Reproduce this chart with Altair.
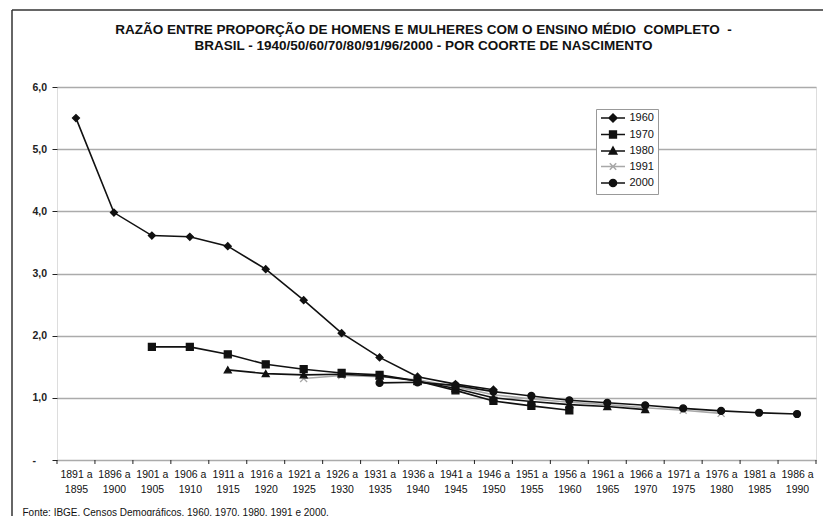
import altair as alt
import pandas as pd

# ---- data ----
cohorts = ["1891 a 1895", "1896 a 1900", "1901 a 1905", "1906 a 1910", "1911 a 1915",
           "1916 a 1920", "1921 a 1925", "1926 a 1930", "1931 a 1935", "1936 a 1940",
           "1941 a 1945", "1946 a 1950", "1951 a 1955", "1956 a 1960", "1961 a 1965",
           "1966 a 1970", "1971 a 1975", "1976 a 1980", "1981 a 1985", "1986 a 1990"]

series_names = ["1960", "1970", "1980", "1991", "2000"]

s1960 = [5.50, 3.98, 3.61, 3.59, 3.44, 3.07, 2.57, 2.04, 1.65, 1.34, 1.22, 1.13,
         None, None, None, None, None, None, None, None]
s1970 = [None, None, 1.82, 1.82, 1.70, 1.54, 1.46, 1.40, 1.37, 1.27, 1.12, 0.95,
         0.87, 0.80, None, None, None, None, None, None]
s1980 = [None, None, None, None, 1.45, 1.39, 1.37, 1.38, 1.35, 1.27, 1.15, 1.00,
         0.94, 0.89, 0.86, 0.81, None, None, None, None]
s1991 = [None, None, None, None, None, None, 1.31, 1.36, 1.34, 1.29, 1.18, 1.05,
         0.98, 0.93, 0.89, 0.84, 0.80, 0.75, None, None]
s2000 = [None, None, None, None, None, None, None, None, 1.24, 1.25, 1.20, 1.10,
         1.03, 0.96, 0.92, 0.88, 0.83, 0.79, 0.76, 0.74]

y_ticks = [0, 1, 2, 3, 4, 5, 6]
NB = "\u00a0"
title_lines = ["RAZÃO ENTRE PROPORÇÃO DE HOMENS E MULHERES COM O ENSINO MÉDIO" + NB + " COMPLETO" + NB + " -",
               "BRASIL - 1940/50/60/70/80/91/96/2000 - POR COORTE DE NASCIMENTO"]
source = "Fonte: IBGE. Censos Demográficos. 1960. 1970. 1980. 1991 e 2000."

# ---- table built from the arrays ----
rows = []
for name, vals in zip(series_names, [s1960, s1970, s1980, s1991, s2000]):
    for i, v in enumerate(vals):
        if v is not None:
            rows.append({"idx": i, "cohort": cohorts[i], "series": name, "value": v})
df = pd.DataFrame(rows)
bounds = pd.DataFrame({"b": [i - 0.5 for i in range(len(cohorts) + 1)]})
one = pd.DataFrame({"a": [0]})

FONT = "Liberation Sans"
W, H = 759, 373

colors = ["#111111", "#111111", "#111111", "#a8a8a8", "#111111"]
plot_shapes = ["diamond", "square", "triangle-up", "M-1,-1L1,1M-1,1L1,-1", "circle"]
# legend symbols: a short line with the marker in its middle (unit = 4 px)
legend_shapes = [
    "M-1,0H5M2,-1L3,0L2,1L1,0Z",
    "M-1,0H5M1.15,-0.85H2.85V0.85H1.15Z",
    "M-1,0H5M2,-1L2.95,0.75H1.05Z",
    "M-1,0H5M1.2,-0.8L2.8,0.8M1.2,0.8L2.8,-0.8",
    "M-1,0H5M2.9,0A0.9,0.9,0,1,1,1.1,0A0.9,0.9,0,1,1,2.9,0Z",
]

label_arr = "[" + ",".join("['%s','%s']" % (c[:6], c[7:]) for c in cohorts) + "]"

x_scale = alt.Scale(domain=[-0.5, len(cohorts) - 0.5], nice=False, zero=False)
y_scale = alt.Scale(domain=[0, 6], nice=False)

x_axis = alt.Axis(
    values=list(range(len(cohorts))), labelExpr=label_arr + "[datum.value]",
    ticks=False, grid=False, domain=False, labelPadding=9,
    labelFontSize=10.5, labelLineHeight=15, labelColor="#111", labelFont=FONT,
    labelFlush=False, labelOverlap=False,
    title=source, titleFont=FONT, titleFontSize=10, titleFontWeight="normal",
    titleColor="#111", titleAnchor="start", titleAlign="left",
    titleBaseline="alphabetic", titleX=-35, titleY=55,
)
y_axis = alt.Axis(
    values=y_ticks, grid=True, gridColor="#ababab", gridWidth=1.5,
    domain=False, ticks=True, tickSize=5, tickColor="#222",
    labelExpr="datum.value == 0 ? '-' : replace(format(datum.value, '.1f'), '.', ',')",
    labelAlign="left", labelPadding=20, labelFontSize=10.5, labelFontWeight="bold",
    labelColor="#222", labelFont=FONT, title=None,
)


def xe(field="idx:Q"):
    return alt.X(field, scale=x_scale, axis=x_axis)


def ye():
    return alt.Y("value:Q", scale=y_scale, axis=y_axis)


layers = []

# outer frame of the figure (decoration)
layers.append(alt.Chart(one).mark_rule(color="#333", strokeWidth=1.5).encode(
    x=alt.value(-45), y=alt.value(-77), y2=alt.value(H + 80)))
layers.append(alt.Chart(one).mark_rule(color="#333", strokeWidth=1.5).encode(
    x=alt.value(-45), x2=alt.value(W + 60), y=alt.value(-77)))

# x ticks between categories
layers.append(alt.Chart(bounds).mark_rule(color="#222", strokeWidth=1).encode(
    x=xe("b:Q"), y=alt.value(H), y2=alt.value(H + 4)))

# series lines and markers
order = [3, 0, 1, 2, 4]
for k in order:
    name, col, shp = series_names[k], colors[k], plot_shapes[k]
    base = alt.Chart(df).transform_filter(alt.datum.series == name)
    layers.append(base.mark_line(color=col, strokeWidth=1.6).encode(x=xe(), y=ye()))
    layers.append(base.mark_point(shape=shp, filled=True, fill=col, stroke=col,
                                  strokeWidth=1.3, size=48, opacity=1).encode(x=xe(), y=ye()))

# legend (scales only used here)
leg = alt.Legend(
    orient="none", legendX=539, legendY=22, title=None, padding=3.5,
    symbolSize=64, labelOffset=19, rowPadding=2.5,
    symbolStrokeWidth=1.5, labelFontSize=11, labelFont=FONT, labelColor="#111",
    strokeColor="#999999", fillColor="white",
)
layers.append(alt.Chart(df).transform_filter("false").mark_point(filled=True, opacity=1).encode(
    x=xe(), y=ye(),
    fill=alt.Fill("series:N", scale=alt.Scale(domain=series_names, range=colors), legend=leg),
    stroke=alt.Stroke("series:N", scale=alt.Scale(domain=series_names, range=colors), legend=leg),
    shape=alt.Shape("series:N", scale=alt.Scale(domain=series_names, range=legend_shapes), legend=leg),
))

chart = alt.layer(*layers).properties(
    width=W, height=H,
    title=alt.TitleParams(
        text=title_lines, font=FONT, fontSize=13.5, fontWeight="bold", color="#111",
        anchor="middle", frame="group", offset=0, dy=43, lineHeight=16, dx=-13,
    ),
    autosize=alt.AutoSizeParams(type="none"),
    padding={"left": 49, "top": 79, "right": 7, "bottom": 56},
).configure_view(
    stroke="#111", strokeWidth=1.5
).configure(background="white")

chart.save("out.html", embed_options={"renderer": "svg", "actions": False})
